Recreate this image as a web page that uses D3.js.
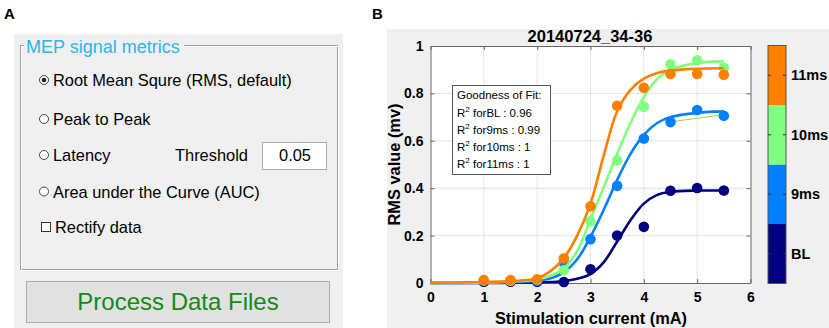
<!DOCTYPE html>
<html>
<head>
<meta charset="UTF-8" />
<title>MEP recruitment</title>
<script src="https://d3js.org/d3.v7.min.js"></script>
<style>
  body { margin: 0; background: #fff; }
  svg text { font-family: Arial, "Liberation Sans", sans-serif; }
</style>
</head>
<body>
<svg id="fig" width="829" height="328"></svg>
<script>
// ---- data ----
const stimX = [1, 1.5, 2, 2.5, 3, 3.5, 4, 4.5, 5, 5.5]
const rmsBL = [0.005, 0.005, 0.005, 0.004, 0.058, 0.2, 0.237, 0.389, 0.401, 0.39]
const rms9 = [0.01, 0.01, 0.01, 0.085, 0.185, 0.41, 0.61, 0.679, 0.73, 0.706]
const rms10 = [0.012, 0.01, 0.015, 0.054, 0.26, 0.518, 0.744, 0.923, 0.94, 0.908]
const rms11 = [0.012, 0.012, 0.016, 0.104, 0.324, 0.748, 0.824, 0.882, 0.882, 0.879]

// fitted curves
const fitX = [0, 1, 1.5, 2, 2.25, 2.5, 2.75, 3, 3.25, 3.5, 3.75, 4, 4.25, 4.5, 5, 5.5]
const fitBL = [0, 0, 0.001, 0.002, 0.004, 0.008, 0.018, 0.037, 0.088, 0.175, 0.265, 0.335, 0.372, 0.385, 0.39, 0.39]
const fit9 = [0, 0.001, 0.004, 0.01, 0.02, 0.045, 0.1, 0.195, 0.31, 0.435, 0.545, 0.625, 0.675, 0.7, 0.718, 0.724]
const fit10 = [0, 0.002, 0.006, 0.015, 0.03, 0.062, 0.135, 0.27, 0.405, 0.545, 0.675, 0.785, 0.86, 0.9, 0.928, 0.935]
const fit11 = [0, 0.004, 0.008, 0.02, 0.05, 0.105, 0.2, 0.335, 0.54, 0.725, 0.815, 0.862, 0.886, 0.897, 0.904, 0.906]
const stray9 = [[4.5, 0.68], [5.5, 0.71]]   // thin leftover line on 9ms

const seriesNames = ["BL", "9ms", "10ms", "11ms"]
const seriesColors = ["#000080", "#0080ff", "#80ff80", "#ff8000"]
const r2Labels = ["forBL : 0.96", "for9ms : 0.99", "for10ms : 1", "for11ms : 1"]

const xTicks = [0, 1, 2, 3, 4, 5, 6]
const yTicks = [0, 0.2, 0.4, 0.6, 0.8, 1]
const yTickText = ["0", "0.2", "0.4", "0.6", "0.8", "1"]

const radioItems = ["Root Mean Squre (RMS, default)", "Peak to Peak", "Latency", "Area under the Curve (AUC)"]

const svg = d3.select("#fig")

// ================= panel A : GUI =================
svg.append("text").attr("x", 4).attr("y", 19).text("A")
  .style("font-weight", "bold").style("font-size", "15px")

const pa = svg.append("g")
pa.append("rect").attr("x", 14).attr("y", 34).attr("width", 329).attr("height", 294).attr("fill", "#f0f0f0")

// etched group frame
pa.append("rect").attr("x", 20.5).attr("y", 45.5).attr("width", 317).attr("height", 224)
  .attr("fill", "none").attr("stroke", "#a0a0a0")
pa.append("rect").attr("x", 21.5).attr("y", 46.5).attr("width", 317).attr("height", 224)
  .attr("fill", "none").attr("stroke", "#ffffff")
pa.append("rect").attr("x", 24).attr("y", 36).attr("width", 160).attr("height", 18).attr("fill", "#f0f0f0")
pa.append("text").attr("x", 26).attr("y", 53).text("MEP signal metrics")
  .attr("fill", "#30b4ee").style("font-size", "18px")

const itemY = [80, 119, 155, 191.5]
radioItems.forEach((t, i) => {
  pa.append("circle").attr("cx", 44).attr("cy", itemY[i]).attr("r", 4.5)
    .attr("fill", "#fff").attr("stroke", "#333").attr("stroke-width", 0.9)
  if (i === 0) pa.append("circle").attr("cx", 44).attr("cy", itemY[i]).attr("r", 2.3).attr("fill", "#222")
  pa.append("text").attr("x", 53).attr("y", itemY[i] + 6).text(t).style("font-size", "16.4px").attr("fill", "#000")
})
pa.append("rect").attr("x", 41.5).attr("y", 222.5).attr("width", 9).attr("height", 9)
  .attr("fill", "#fff").attr("stroke", "#333")
pa.append("text").attr("x", 55).attr("y", 233).text("Rectify data").style("font-size", "16.4px")

pa.append("text").attr("x", 175).attr("y", 161).text("Threshold").style("font-size", "16.4px")
pa.append("rect").attr("x", 262.5).attr("y", 142.5).attr("width", 64).attr("height", 27)
  .attr("fill", "#fff").attr("stroke", "#adadad")
pa.append("text").attr("x", 295).attr("y", 161).attr("text-anchor", "middle").text("0.05").style("font-size", "16.4px")

// button
pa.append("rect").attr("x", 26.5).attr("y", 281.5).attr("width", 303).attr("height", 41)
  .attr("fill", "#e1e1e1").attr("stroke", "#adadad")
pa.append("text").attr("x", 178).attr("y", 310).attr("text-anchor", "middle").text("Process Data Files")
  .attr("fill", "#138a13").style("font-size", "24px")

// ================= panel B : chart =================
svg.append("text").attr("x", 372).attr("y", 19).text("B")
  .style("font-weight", "bold").style("font-size", "15px")
svg.append("rect").attr("x", 387).attr("y", 29).attr("width", 442).attr("height", 299).attr("fill", "#f0f0f0")

const x = d3.scaleLinear().domain([0, 6]).range([430.5, 750.5])
const y = d3.scaleLinear().domain([0, 1]).range([283, 46])

const plot = svg.append("g")
plot.append("rect").attr("x", x(0)).attr("y", y(1)).attr("width", x(6) - x(0)).attr("height", y(0) - y(1)).attr("fill", "#fff")

// grid
plot.selectAll("line.gx").data(xTicks.slice(1, -1)).join("line").attr("class", "gx")
  .attr("x1", d => x(d)).attr("x2", d => x(d)).attr("y1", y(0)).attr("y2", y(1))
  .attr("stroke", "#e3e3e3").attr("stroke-width", 1)
plot.selectAll("line.gy").data(yTicks.slice(1, -1)).join("line").attr("class", "gy")
  .attr("x1", x(0)).attr("x2", x(6)).attr("y1", d => y(d)).attr("y2", d => y(d))
  .attr("stroke", "#e3e3e3").attr("stroke-width", 1)

// axes (ticks inward, box on)
const axB = d3.axisBottom(x).tickValues(xTicks).tickSizeInner(-4).tickSizeOuter(0).tickPadding(9)
  .tickFormat(d3.format("d"))
const axT = d3.axisTop(x).tickValues(xTicks).tickSizeInner(-4).tickSizeOuter(0).tickFormat("")
const axL = d3.axisLeft(y).tickValues(yTicks).tickSizeInner(-4).tickSizeOuter(0).tickPadding(7)
  .tickFormat((d, i) => yTickText[i])
const axR = d3.axisRight(y).tickValues(yTicks).tickSizeInner(-4).tickSizeOuter(0).tickFormat("")
const gB = plot.append("g").attr("transform", `translate(0,${y(0)})`).call(axB)
const gT = plot.append("g").attr("transform", `translate(0,${y(1)})`).call(axT)
const gL = plot.append("g").attr("transform", `translate(${x(0)},0)`).call(axL)
const gR = plot.append("g").attr("transform", `translate(${x(6)},0)`).call(axR)
;[gB, gT, gL, gR].forEach(g => {
  g.select(".domain").attr("stroke", "#666")
  g.selectAll(".tick line").attr("stroke", "#666")
  g.selectAll(".tick text").style("font-size", "14px").style("font-weight", "bold").attr("fill", "#000")
})

// legend-ish text box
const lg = plot.append("g")
lg.append("rect").attr("x", 452.5).attr("y", 85.5).attr("width", 98).attr("height", 89)
  .attr("fill", "#fff").attr("stroke", "#555")
lg.append("text").attr("x", 457).attr("y", 99).text("Goodness of Fit:").style("font-size", "11.5px")
r2Labels.forEach((t, i) => {
  const tx = lg.append("text").attr("x", 457).attr("y", 116.5 + i * 17.3).style("font-size", "11.5px")
  tx.append("tspan").text("R")
  tx.append("tspan").attr("dy", -5).style("font-size", "8px").text("2")
  tx.append("tspan").attr("dy", 5).text(" " + t)
})

// fits and points
const line = d3.line().x(d => x(d[0])).y(d => y(d[1])).curve(d3.curveCatmullRom.alpha(0.5))
const fits = [fitBL, fit9, fit10, fit11]
const pts = [rmsBL, rms9, rms10, rms11]
seriesNames.forEach((name, i) => {
  const g = plot.append("g").attr("class", "series")
  g.append("path").datum(fitX.map((v, j) => [v, fits[i][j]])).attr("d", line)
    .attr("fill", "none").attr("stroke", seriesColors[i]).attr("stroke-width", 2.6)
  if (name === "9ms") {
    g.append("path").datum(stray9).attr("d", d3.line().x(d => x(d[0])).y(d => y(d[1])))
      .attr("stroke", "#a8c85a").attr("stroke-width", 1).attr("fill", "none")
  }
  g.selectAll("circle").data(stimX.map((v, j) => [v, pts[i][j]])).join("circle")
    .attr("cx", d => x(d[0])).attr("cy", d => y(d[1])).attr("r", 5.3).attr("fill", seriesColors[i])
})

// title + labels
plot.append("text").attr("x", 590).attr("y", 42).attr("text-anchor", "middle").text("20140724_34-36")
  .style("font-weight", "bold").style("font-size", "16.5px")
plot.append("text").attr("x", 591).attr("y", 324).attr("text-anchor", "middle").text("Stimulation current (mA)")
  .style("font-weight", "bold").style("font-size", "16.4px")
plot.append("text").attr("transform", `translate(400,${(y(0) + y(1)) / 2}) rotate(-90)`)
  .attr("text-anchor", "middle").text("RMS value (mv)")
  .style("font-weight", "bold").style("font-size", "16.4px")

// colorbar
const cb = d3.scaleBand().domain(seriesNames.slice().reverse()).range([45.5, 283.5])
const cg = svg.append("g")
cg.selectAll("rect").data(seriesNames).join("rect")
  .attr("x", 768).attr("y", d => cb(d)).attr("width", 18).attr("height", cb.bandwidth())
  .attr("fill", (d, i) => seriesColors[i])
cg.append("rect").attr("x", 768).attr("y", 45.5).attr("width", 18).attr("height", 238)
  .attr("fill", "none").attr("stroke", "#555")
seriesNames.forEach(d => {
  const cy = cb(d) + cb.bandwidth() / 2
  cg.append("line").attr("x1", 768).attr("x2", 771).attr("y1", cy).attr("y2", cy).attr("stroke", "#333")
  cg.append("line").attr("x1", 783).attr("x2", 786).attr("y1", cy).attr("y2", cy).attr("stroke", "#333")
  cg.append("text").attr("x", 791).attr("y", cy + 5).text(d)
    .style("font-weight", "bold").style("font-size", "14.5px")
})
</script>
</body>
</html>
